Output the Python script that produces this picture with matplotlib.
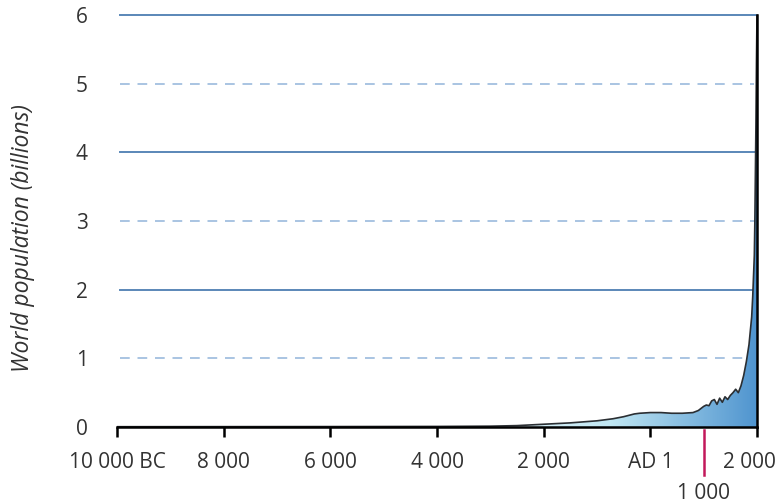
import numpy as np
import matplotlib.pyplot as plt
import matplotlib.transforms as mtransforms
from matplotlib.colors import LinearSegmentedColormap

plt.rcParams['font.family'] = ['Open Sans', 'DejaVu Sans']

# world population estimates (billions)
years = [-10000, -8000, -6000, -4000, -3000, -2500, -2000, -1500, -1000, -700,
         -500, -300, -200, 0, 200, 400, 600, 800, 900, 1000, 1050, 1100, 1150,
         1200, 1250, 1300, 1350, 1400, 1450, 1500, 1550, 1600, 1650, 1700, 1750,
         1800, 1850, 1900, 1920, 1940, 1950, 1960, 1970, 1980, 1990, 2000]
population = [0.004, 0.005, 0.006, 0.008, 0.012, 0.02, 0.04, 0.06, 0.09, 0.12,
              0.15, 0.19, 0.2, 0.21, 0.21, 0.2, 0.2, 0.21, 0.24, 0.3, 0.32, 0.31, 0.38,
              0.4, 0.33, 0.42, 0.36, 0.44, 0.4, 0.46, 0.5, 0.55, 0.5, 0.6, 0.75,
              0.95, 1.2, 1.6, 1.9, 2.3, 2.5, 3.0, 3.7, 4.4, 5.3, 6.0]

tick_years = [-10000, -8000, -6000, -4000, -2000, 0, 2000]
tick_labels = ["10 000 BC", "8 000", "6 000", "4 000", "2 000", "AD 1", "2 000"]
y_ticks = [0, 1, 2, 3, 4, 5, 6]

fig = plt.figure(figsize=(7.78, 5.04), dpi=100)
ax = fig.add_axes([0.1504, 0.1528, 0.8226, 0.8174])
ax.set_xlim(-10000, 2000)
ax.set_ylim(0, 6)

# grid lines: solid on even, dashed on odd
for v in [2, 4, 6]:
    ax.axhline(v, xmin=0.005, xmax=1, color='#5a87b8', lw=1.4, clip_on=False, zorder=1)
for v in [1, 3, 5]:
    ax.axhline(v, xmin=0.005, xmax=0.995, color='#a9c4e2', lw=1.4, ls=(0, (5, 4)), zorder=1)

# gradient fill under the curve
poly = ax.fill_between(years, 0, population, facecolor='none', edgecolor='none')
cmap = LinearSegmentedColormap.from_list('pop', ['#eaf8fc', '#c0e7f3', '#4f94cf'])
grad = np.linspace(0, 1, 256).reshape(1, -1)
im = ax.imshow(grad, extent=(-3500, 2000, 0, 6), aspect='auto', cmap=cmap,
               zorder=2, origin='lower')
im.set_clip_path(poly.get_paths()[0], transform=ax.transData)
ax.set_xlim(-10000, 2000)
ax.set_ylim(0, 6)

ax.plot(years, population, color='#2b2f33', lw=1.2, zorder=3)

for s in ['left', 'top']:
    ax.spines[s].set_visible(False)
ax.spines['bottom'].set_linewidth(1.8)
ax.spines['right'].set_linewidth(1.8)
ax.spines['bottom'].set_zorder(4)
ax.spines['right'].set_zorder(4)

ax.set_xticks(tick_years)
ax.set_xticklabels(tick_labels)
ax.set_yticks(y_ticks)
ax.tick_params(axis='x', direction='out', length=7, width=1.8, pad=11,
               labelsize=15, labelcolor='#333333')
ax.tick_params(axis='y', length=0, pad=21, labelsize=15, labelcolor='#333333')

# last label sits a little left of its tick
lab = ax.get_xticklabels()[-1]
lab.set_transform(lab.get_transform() + mtransforms.ScaledTranslation(-8 / 100, 0, fig.dpi_scale_trans))

fig.text(23 / 778, 1 - 238 / 504, 'World population (billions)', rotation=90,
         ha='center', va='center', fontsize=16.5, style='italic', color='#333333')

# red marker for AD 1000
trans = mtransforms.blended_transform_factory(ax.transData, ax.transAxes)
ax.plot([1000, 1000], [-0.008, -0.117], transform=trans, color='#c2185b',
        lw=1.8, clip_on=False)
ax.text(1000, -0.162, '1 000', transform=trans, ha='center', va='center',
        fontsize=15, color='#333333')

fig.savefig('out.png', dpi=100)
